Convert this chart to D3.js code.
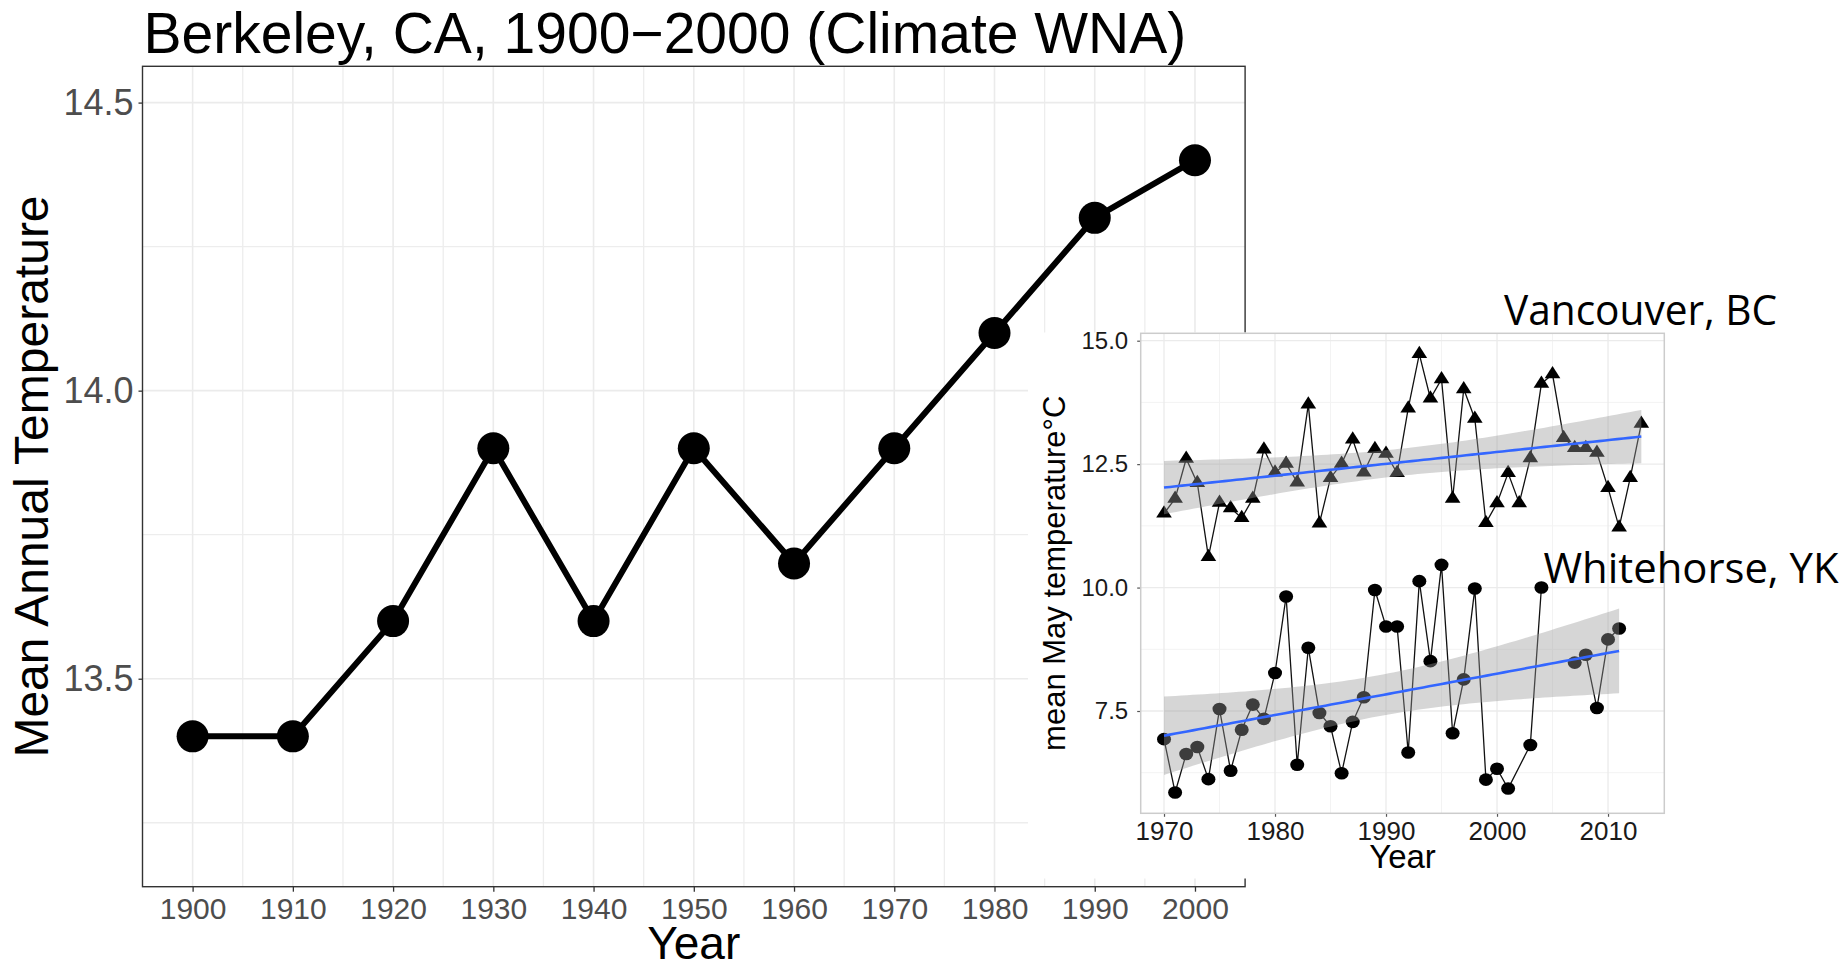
<!DOCTYPE html>
<html>
<head>
<meta charset="utf-8">
<script src="https://cdn.jsdelivr.net/npm/d3@7"></script>
<style>
  body { margin: 0; background: #fff; }
  svg { display: block; }
</style>
</head>
<body>
<svg id="chart" width="1848" height="965"></svg>
<script>
// ---- Berkeley decadal means (main panel) ----
const berkeleyYears = [1900, 1910, 1920, 1930, 1940, 1950, 1960, 1970, 1980, 1990, 2000];
const berkeleyTemp  = [13.4, 13.4, 13.6, 13.9, 13.6, 13.9, 13.7, 13.9, 14.1, 14.3, 14.4];
const mainXTicks = [1900, 1910, 1920, 1930, 1940, 1950, 1960, 1970, 1980, 1990, 2000];
const mainXMinor = [1905, 1915, 1925, 1935, 1945, 1955, 1965, 1975, 1985, 1995];
const mainYTicks = [13.5, 14.0, 14.5];
const mainYTickLabels = ["13.5", "14.0", "14.5"];
const mainYMinor = [13.25, 13.75, 14.25];

// ---- Mean May temperature, Vancouver BC (triangles) ----
const vancouverYears = [1970, 1971, 1972, 1973, 1974, 1975, 1976, 1977, 1978, 1979,
                        1980, 1981, 1982, 1983, 1984, 1985, 1986, 1987, 1988, 1989,
                        1990, 1991, 1992, 1993, 1994, 1995, 1996, 1997, 1998, 1999,
                        2000, 2001, 2002, 2003, 2004, 2005, 2006, 2007, 2008, 2009,
                        2010, 2011, 2012, 2013];
const vancouverTemp  = [11.50, 11.80, 12.61, 12.12, 10.62, 11.72, 11.61, 11.41, 11.80, 12.80,
                        12.33, 12.51, 12.13, 13.71, 11.30, 12.22, 12.51, 13.00, 12.33, 12.81,
                        12.71, 12.32, 13.63, 14.73, 13.83, 14.22, 11.80, 14.02, 13.42, 11.31,
                        11.71, 12.32, 11.71, 12.62, 14.13, 14.32, 13.03, 12.83, 12.83, 12.73,
                        12.02, 11.22, 12.22, 13.32];

// ---- Mean May temperature, Whitehorse YK (circles); null = missing year ----
const whitehorseYears = [1970, 1971, 1972, 1973, 1974, 1975, 1976, 1977, 1978, 1979,
                         1980, 1981, 1982, 1983, 1984, 1985, 1986, 1987, 1988, 1989,
                         1990, 1991, 1992, 1993, 1994, 1995, 1996, 1997, 1998, 1999,
                         2000, 2001, 2003, 2004, 2005, 2006, 2007, 2008, 2009, 2010, 2011];
const whitehorseTemp  = [6.93, 5.85, 6.63, 6.77, 6.12, 7.54, 6.29, 7.12, 7.63, 7.34,
                         8.27, 9.82, 6.41, 8.78, 7.46, 7.19, 6.24, 7.28, 7.78, 9.95,
                         9.21, 9.21, 6.66, 10.13, 8.51, 10.46, 7.05, 8.14, 9.98, 6.11,
                         6.33, 5.93, 6.81, 10.00, null, null, 8.48, 8.64, 7.56, 8.95, 9.17];

const insetXTicks = [1970, 1980, 1990, 2000, 2010];
const insetXMinor = [1975, 1985, 1995, 2005];
const insetYTicks = [7.5, 10.0, 12.5, 15.0];
const insetYTickLabels = ["7.5", "10.0", "12.5", "15.0"];
const insetYMinor = [6.25, 8.75, 11.25, 13.75];

const FONT = "'Liberation Sans', Arial, Helvetica, sans-serif";
const svg = d3.select("#chart");

// ================= Main panel =================
const main = { left: 142.5, top: 66.3, right: 1245.1, bottom: 886.7 };
const mx = d3.scaleLinear().domain([1895, 2005]).range([main.left, main.right]);
const my = d3.scaleLinear().domain([13.139, 14.563]).range([main.bottom, main.top]);

const gMain = svg.append("g");
const grid = gMain.append("g");
grid.selectAll(".vminor").data(mainXMinor).join("line")
  .attr("x1", d => mx(d)).attr("x2", d => mx(d))
  .attr("y1", main.top).attr("y2", main.bottom)
  .attr("stroke", "#ededed").attr("stroke-width", 1.3);
grid.selectAll(".hminor").data(mainYMinor).join("line")
  .attr("x1", main.left).attr("x2", main.right)
  .attr("y1", d => my(d)).attr("y2", d => my(d))
  .attr("stroke", "#ededed").attr("stroke-width", 1.3);
grid.selectAll(".vmajor").data(mainXTicks).join("line")
  .attr("x1", d => mx(d)).attr("x2", d => mx(d))
  .attr("y1", main.top).attr("y2", main.bottom)
  .attr("stroke", "#ebebeb").attr("stroke-width", 1.6);
grid.selectAll(".hmajor").data(mainYTicks).join("line")
  .attr("x1", main.left).attr("x2", main.right)
  .attr("y1", d => my(d)).attr("y2", d => my(d))
  .attr("stroke", "#ebebeb").attr("stroke-width", 1.6);

// axes
const xAxisMain = d3.axisBottom(mx).tickValues(mainXTicks).tickFormat(d3.format("d"))
  .tickSize(5).tickPadding(6);
const gxm = gMain.append("g").attr("transform", `translate(0,${main.bottom})`).call(xAxisMain);
gxm.select(".domain").remove();
gxm.selectAll(".tick line").attr("stroke", "#333").attr("stroke-width", 1.3);
gxm.selectAll(".tick text").attr("font-family", FONT).attr("font-size", 30)
  .attr("fill", "#4d4d4d").attr("dy", "0.71em");

const yAxisMain = d3.axisLeft(my).tickValues(mainYTicks)
  .tickFormat((d, i) => mainYTickLabels[i]).tickSize(4).tickPadding(5);
const gym = gMain.append("g").attr("transform", `translate(${main.left},0)`).call(yAxisMain);
gym.select(".domain").remove();
gym.selectAll(".tick line").attr("stroke", "#333").attr("stroke-width", 1.3);
gym.selectAll(".tick text").attr("font-family", FONT).attr("font-size", 36)
  .attr("fill", "#4d4d4d");

// data line + points
const berkeley = berkeleyYears.map((y, i) => ({ year: y, t: berkeleyTemp[i] }));
gMain.append("path").datum(berkeley)
  .attr("fill", "none").attr("stroke", "#000").attr("stroke-width", 6)
  .attr("stroke-linejoin", "round")
  .attr("d", d3.line().x(d => mx(d.year)).y(d => my(d.t)));
gMain.selectAll(".bpt").data(berkeley).join("circle")
  .attr("cx", d => mx(d.year)).attr("cy", d => my(d.t)).attr("r", 16).attr("fill", "#000");

// panel border
gMain.append("rect")
  .attr("x", main.left).attr("y", main.top)
  .attr("width", main.right - main.left).attr("height", main.bottom - main.top)
  .attr("fill", "none").attr("stroke", "#333").attr("stroke-width", 1.4);

// titles
svg.append("text").attr("x", 143.5).attr("y", 53)
  .attr("font-family", FONT).attr("font-size", 57).attr("fill", "#000")
  .text("Berkeley, CA, 1900\u22122000 (Climate WNA)");
svg.append("text").attr("x", (main.left + main.right) / 2).attr("y", 959)
  .attr("text-anchor", "middle").attr("font-family", FONT).attr("font-size", 46)
  .attr("fill", "#000").text("Year");
svg.append("text")
  .attr("transform", `translate(48,${(main.top + main.bottom) / 2}) rotate(-90)`)
  .attr("text-anchor", "middle").attr("font-family", FONT).attr("font-size", 48)
  .attr("fill", "#000").text("Mean Annual Temperature");

// ================= Inset =================
// white backing of the inset figure
svg.append("rect").attr("x", 1028).attr("y", 332.5).attr("width", 820).attr("height", 546)
  .attr("fill", "#fff");

const ins = { left: 1140.7, top: 333.3, right: 1664.3, bottom: 813.3 };
const ix = d3.scaleLinear().domain([1967.9, 2015.07]).range([ins.left, ins.right]);
const iy = d3.scaleLinear().domain([5.428, 15.15]).range([ins.bottom, ins.top]);

const gIn = svg.append("g");
const ig = gIn.append("g");
ig.selectAll(".vminor").data(insetXMinor).join("line")
  .attr("x1", d => ix(d)).attr("x2", d => ix(d)).attr("y1", ins.top).attr("y2", ins.bottom)
  .attr("stroke", "#f3f3f3").attr("stroke-width", 1);
ig.selectAll(".hminor").data(insetYMinor).join("line")
  .attr("x1", ins.left).attr("x2", ins.right).attr("y1", d => iy(d)).attr("y2", d => iy(d))
  .attr("stroke", "#f3f3f3").attr("stroke-width", 1);
ig.selectAll(".vmajor").data(insetXTicks).join("line")
  .attr("x1", d => ix(d)).attr("x2", d => ix(d)).attr("y1", ins.top).attr("y2", ins.bottom)
  .attr("stroke", "#ebebeb").attr("stroke-width", 1.3);
ig.selectAll(".hmajor").data(insetYTicks).join("line")
  .attr("x1", ins.left).attr("x2", ins.right).attr("y1", d => iy(d)).attr("y2", d => iy(d))
  .attr("stroke", "#ebebeb").attr("stroke-width", 1.3);

const xAxisIn = d3.axisBottom(ix).tickValues(insetXTicks).tickFormat(d3.format("d"))
  .tickSize(3.5).tickPadding(5);
const gxi = gIn.append("g").attr("transform", `translate(0,${ins.bottom})`).call(xAxisIn);
gxi.select(".domain").remove();
gxi.selectAll(".tick line").attr("stroke", "#555").attr("stroke-width", 1.2);
gxi.selectAll(".tick text").attr("font-family", FONT).attr("font-size", 26)
  .attr("fill", "#1a1a1a").attr("dy", "0.71em");

const yAxisIn = d3.axisLeft(iy).tickValues(insetYTicks)
  .tickFormat((d, i) => insetYTickLabels[i]).tickSize(3.5).tickPadding(9);
const gyi = gIn.append("g").attr("transform", `translate(${ins.left},0)`).call(yAxisIn);
gyi.select(".domain").remove();
gyi.selectAll(".tick line").attr("stroke", "#555").attr("stroke-width", 1.2);
gyi.selectAll(".tick text").attr("font-family", FONT).attr("font-size", 24)
  .attr("fill", "#1a1a1a");

const vancouver = vancouverYears.map((y, i) => ({ year: y, t: vancouverTemp[i] }));
const whitehorse = whitehorseYears.map((y, i) => ({ year: y, t: whitehorseTemp[i] }));

const seriesLine = d3.line().defined(d => d.t != null)
  .x(d => ix(d.year)).y(d => iy(d.t));
[vancouver, whitehorse].forEach(s => {
  gIn.append("path").datum(s).attr("fill", "none").attr("stroke", "#111")
    .attr("stroke-width", 1.3).attr("d", seriesLine);
});

const tri = d3.symbol(d3.symbolTriangle, 96)();
gIn.selectAll(".vpt").data(vancouver).join("path")
  .attr("d", tri)
  .attr("transform", d => `translate(${ix(d.year)},${iy(d.t)}) scale(1.05,0.95)`)
  .attr("fill", "#000");
gIn.selectAll(".wpt").data(whitehorse.filter(d => d.t != null)).join("ellipse")
  .attr("cx", d => ix(d.year)).attr("cy", d => iy(d.t))
  .attr("rx", 7).attr("ry", 6.3).attr("fill", "#000");

// linear fit with 95% confidence band, as geom_smooth(method = "lm")
function linearFit(data) {
  const pts = data.filter(d => d.t != null);
  const n = pts.length;
  const mxv = d3.mean(pts, d => d.year), myv = d3.mean(pts, d => d.t);
  const sxx = d3.sum(pts, d => (d.year - mxv) ** 2);
  const sxy = d3.sum(pts, d => (d.year - mxv) * (d.t - myv));
  const b = sxy / sxx, a = myv - b * mxv;
  const rss = d3.sum(pts, d => (d.t - (a + b * d.year)) ** 2);
  const s = Math.sqrt(rss / (n - 2));
  const df = n - 2, z = 1.959964;
  const tq = z + (z ** 3 + z) / (4 * df) + (5 * z ** 5 + 16 * z ** 3 + 3 * z) / (96 * df * df);
  const [x0, x1] = d3.extent(pts, d => d.year);
  const grid = d3.range(80).map(i => x0 + (x1 - x0) * i / 79);
  return grid.map(x => {
    const fit = a + b * x;
    const se = s * Math.sqrt(1 / n + (x - mxv) ** 2 / sxx);
    return { year: x, fit, lo: fit - tq * se, hi: fit + tq * se };
  });
}

[vancouver, whitehorse].forEach(s => {
  const f = linearFit(s);
  gIn.append("path").datum(f)
    .attr("fill", "#999999").attr("fill-opacity", 0.4)
    .attr("d", d3.area().x(d => ix(d.year)).y0(d => iy(d.lo)).y1(d => iy(d.hi)));
  gIn.append("path").datum(f)
    .attr("fill", "none").attr("stroke", "#3366FF").attr("stroke-width", 2.6)
    .attr("d", d3.line().x(d => ix(d.year)).y(d => iy(d.fit)));
});

gIn.append("rect")
  .attr("x", ins.left).attr("y", ins.top)
  .attr("width", ins.right - ins.left).attr("height", ins.bottom - ins.top)
  .attr("fill", "none").attr("stroke", "#cccccc").attr("stroke-width", 1.5);

svg.append("text").attr("x", (ins.left + ins.right) / 2).attr("y", 868)
  .attr("text-anchor", "middle").attr("font-family", FONT).attr("font-size", 33)
  .attr("fill", "#000").text("Year");
svg.append("text")
  .attr("transform", `translate(1065,${(ins.top + ins.bottom) / 2}) rotate(-90)`)
  .attr("text-anchor", "middle").attr("font-family", FONT).attr("font-size", 31)
  .attr("fill", "#000").text("mean May temperature\u00B0C");

// site labels
const LABEL_FONT = "'Open Sans', 'Noto Sans', sans-serif";
svg.append("text").attr("x", 1504).attr("y", 325)
  .attr("font-family", LABEL_FONT).attr("font-size", 42).attr("fill", "#000")
  .attr("textLength", 273).attr("lengthAdjust", "spacingAndGlyphs")
  .text("Vancouver, BC");
svg.append("text").attr("x", 1543.5).attr("y", 583)
  .attr("font-family", LABEL_FONT).attr("font-size", 42).attr("fill", "#000")
  .attr("textLength", 295).attr("lengthAdjust", "spacingAndGlyphs")
  .text("Whitehorse, YK");
</script>
</body>
</html>
